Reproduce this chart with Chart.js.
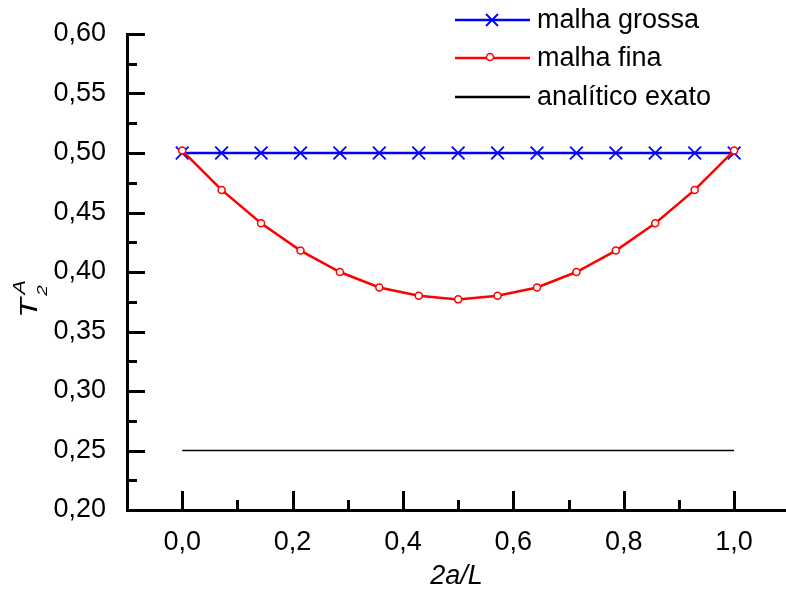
<!DOCTYPE html>
<html><head><meta charset="utf-8">
<script src="https://cdn.jsdelivr.net/npm/chart.js@4.4.0/dist/chart.umd.min.js"></script>
<style>html,body{margin:0;padding:0;background:#fff;overflow:hidden}#wrap{width:786px;height:597px}</style>
</head><body><div id="wrap"><canvas id="c" width="786" height="597"></canvas></div>
<script>
const xPositions = [0, 0.0714, 0.1429, 0.2143, 0.2857, 0.3571, 0.4286, 0.5, 0.5714, 0.6429, 0.7143, 0.7857, 0.8571, 0.9286, 1.0];
const malhaGrossa = [0.50, 0.50, 0.50, 0.50, 0.50, 0.50, 0.50, 0.50, 0.50, 0.50, 0.50, 0.50, 0.50, 0.50, 0.50];
const malhaFina = [0.502, 0.469, 0.441, 0.418, 0.400, 0.387, 0.380, 0.377, 0.380, 0.387, 0.400, 0.418, 0.441, 0.469, 0.502];
const analiticoX = [0.0, 1.0];
const analiticoY = [0.25, 0.25];
const seriesNames = ['malha grossa', 'malha fina', 'analítico exato'];
const xTicks = [0.0, 0.2, 0.4, 0.6, 0.8, 1.0];
const xTickLabels = ['0,0', '0,2', '0,4', '0,6', '0,8', '1,0'];
const xMinorTicks = [0.1, 0.3, 0.5, 0.7, 0.9];
const yTicks = [0.20, 0.25, 0.30, 0.35, 0.40, 0.45, 0.50, 0.55, 0.60];
const yTickLabels = ['0,20', '0,25', '0,30', '0,35', '0,40', '0,45', '0,50', '0,55', '0,60'];
const yMinorTicks = [0.225, 0.275, 0.325, 0.375, 0.425, 0.475, 0.525, 0.575];
const xTitle = '2a/L';

const FAM = '"Liberation Sans", Arial, sans-serif';
const FS = 27;
const BLUE = '#0000ff', RED = '#ff0000', BLACK = '#000000';

const pts = (xs, ys) => xs.map((x, i) => ({x: x, y: ys[i]}));
const zeroPad = s => { s.paddingLeft = 0; s.paddingRight = 0; s.paddingTop = 0; s.paddingBottom = 0; };

const inwardTicks = {
  id: 'inwardTicks',
  afterDatasetsDraw(chart) {
    const ctx = chart.ctx, xs = chart.scales.x, ys = chart.scales.y, a = chart.chartArea;
    ctx.save();
    ctx.strokeStyle = BLACK; ctx.lineWidth = 3; ctx.lineCap = 'butt';
    const yb = a.bottom;
    const drawX = (v, len) => { const p = Math.round(xs.getPixelForValue(v)) + 0.5; ctx.beginPath(); ctx.moveTo(p, yb); ctx.lineTo(p, yb - len); ctx.stroke(); };
    const drawY = (v, len) => { const p = Math.round(ys.getPixelForValue(v)) + 0.5; ctx.beginPath(); ctx.moveTo(a.left, p); ctx.lineTo(a.left + len, p); ctx.stroke(); };
    xTicks.forEach(v => drawX(v, 19));
    xMinorTicks.forEach(v => drawX(v, 10));
    yTicks.forEach(v => drawY(v, 18));
    yMinorTicks.forEach(v => drawY(v, 10));
    ctx.restore();
  }
};

const customLegend = {
  id: 'customLegend',
  afterDraw(chart) {
    const ctx = chart.ctx;
    ctx.save();
    const x0 = 455, x1 = 530, mx = 492, rows = [20, 58, 97];
    const colors = [BLUE, RED, BLACK];
    rows.forEach((y, i) => {
      ctx.strokeStyle = colors[i]; ctx.lineWidth = 2.5;
      ctx.beginPath(); ctx.moveTo(x0, y); ctx.lineTo(x1, y); ctx.stroke();
      if (i === 0) {
        const h = 6;
        ctx.lineWidth = 1.8;
        ctx.beginPath(); ctx.moveTo(mx - h, y - h); ctx.lineTo(mx + h, y + h);
        ctx.moveTo(mx - h, y + h); ctx.lineTo(mx + h, y - h); ctx.stroke();
      } else if (i === 1) {
        ctx.lineWidth = 1.5; ctx.fillStyle = '#fff';
        ctx.beginPath(); ctx.arc(mx - 2, y - 1, 3.5, 0, Math.PI * 2); ctx.fill(); ctx.stroke();
      }
      ctx.fillStyle = BLACK; ctx.font = FS + 'px ' + FAM; ctx.textBaseline = 'middle'; ctx.textAlign = 'left';
      ctx.fillText(seriesNames[i], 537, y + 1);
    });
    ctx.restore();
  }
};

const yTitlePlugin = {
  id: 'yTitle',
  afterDraw(chart) {
    const ctx = chart.ctx;
    ctx.save();
    ctx.translate(37, 318);
    ctx.rotate(-Math.PI / 2);
    ctx.scale(1.35, 1);
    ctx.fillStyle = BLACK; ctx.textBaseline = 'alphabetic'; ctx.textAlign = 'left';
    ctx.font = 'italic 24px ' + FAM;
    ctx.fillText('T', 0, 0);
    ctx.font = 'italic 14px ' + FAM;
    ctx.fillText('2', 16.5, 10);
    ctx.font = 'italic 16px ' + FAM;
    ctx.fillText('A', 17.5, -12);
    ctx.restore();
  }
};

new Chart(document.getElementById('c'), {
  type: 'scatter',
  data: {
    datasets: [
      { label: seriesNames[0], data: pts(xPositions, malhaGrossa), showLine: true, borderColor: BLUE, backgroundColor: BLUE,
        borderWidth: 2.5, pointStyle: 'crossRot', pointRadius: 9, pointBorderWidth: 1.8, pointBorderColor: BLUE, tension: 0, order: 2 },
      { label: seriesNames[1], data: pts(xPositions, malhaFina), showLine: true, borderColor: RED, backgroundColor: '#ffffff',
        borderWidth: 2.5, pointStyle: 'circle', pointRadius: 3.5, pointBorderWidth: 1.5, pointBorderColor: RED, pointBackgroundColor: '#ffffff', tension: 0, order: 1 },
      { label: seriesNames[2], data: pts(analiticoX, analiticoY), showLine: true, borderColor: BLACK, borderWidth: 1.7,
        pointRadius: 0, tension: 0, order: 3 }
    ]
  },
  options: {
    responsive: false, animation: false, devicePixelRatio: 1,
    layout: { autoPadding: false, padding: { left: 0, right: 0, top: 34, bottom: 0 } },
    plugins: { legend: { display: false }, tooltip: { enabled: false }, title: { display: false } },
    scales: {
      x: {
        type: 'linear', position: 'bottom', min: -0.1, max: 1.094,
        afterBuildTicks: s => { s.ticks = xTicks.map(v => ({ value: v })); },
        afterFit: s => { s.height = 87; zeroPad(s); },
        ticks: { callback: (v, i) => xTickLabels[i], font: { size: FS, family: FAM }, color: BLACK, padding: 16, maxRotation: 0, autoSkip: false },
        grid: { display: false, drawTicks: false },
        border: { display: true, color: BLACK, width: 3 },
        title: { display: true, text: xTitle, color: BLACK, font: { size: FS, style: 'italic', family: FAM }, padding: { top: 0, bottom: 4 } }
      },
      y: {
        type: 'linear', position: 'left', min: 0.2, max: 0.6,
        afterBuildTicks: s => { s.ticks = yTicks.map(v => ({ value: v })); },
        afterFit: s => { s.width = 127; zeroPad(s); },
        ticks: { callback: (v, i) => yTickLabels[i], font: { size: FS, family: FAM }, color: BLACK, padding: 21, autoSkip: false },
        grid: { display: false, drawTicks: false },
        border: { display: true, color: BLACK, width: 3 }
      }
    }
  },
  plugins: [inwardTicks, customLegend, yTitlePlugin]
});
</script></body></html>
